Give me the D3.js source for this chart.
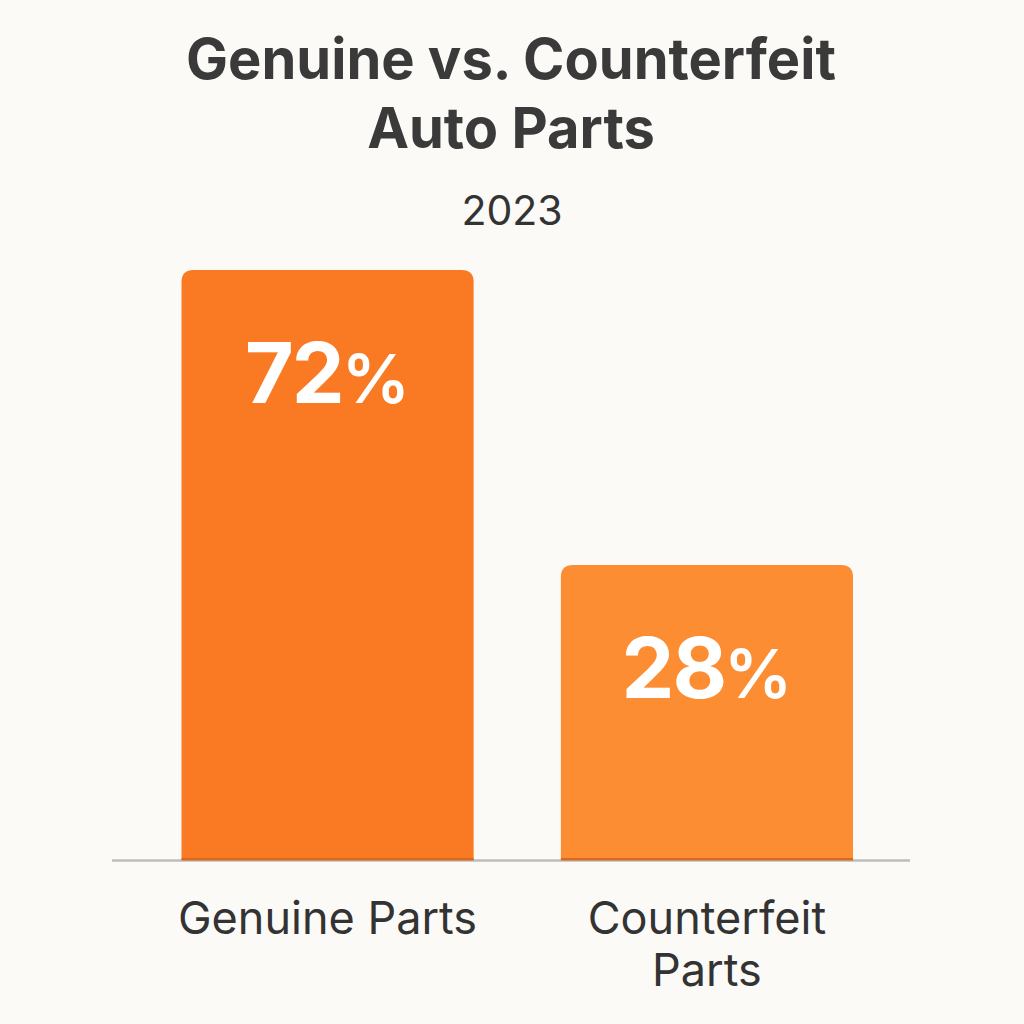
<!DOCTYPE html>
<html><head><meta charset="utf-8">
<script src="https://cdn.jsdelivr.net/npm/d3@7"></script>
<style>
html,body{margin:0;padding:0;background:#FBFAF7;}
svg{display:block;}
text{font-family:Inter,"Noto Sans",sans-serif;}
</style></head>
<body>
<svg id="chart" width="1024" height="1024"></svg>
<script>
const categories = ["Genuine Parts", "Counterfeit Parts"];
const labelLines = [["Genuine Parts"], ["Counterfeit", "Parts"]];
const values = [72, 28];
const valueLabels = ["72", "28"];
const barColors = ["#FA7923", "#FC8D32"];
const titleLines = ["Genuine vs. Counterfeit", "Auto Parts"];
const subtitle = "2023";

const svg = d3.select("#chart");
svg.append("rect").attr("width",1024).attr("height",1024).attr("fill","#FBFAF7");

const x = d3.scaleBand().domain(categories).range([181.5, 853]).paddingInner(0.23).paddingOuter(0);
const y = d3.scaleLinear().domain([-16, 72]).range([860, 270]);
const base = y(-16);

svg.selectAll(".title").data(titleLines).enter().append("text")
  .attr("x", 511).attr("y", (d,i)=>79 + i*69)
  .attr("text-anchor","middle").attr("font-size",56).attr("font-weight",700)
  .attr("fill","#3a3a3a").text(d=>d);

svg.append("text").attr("x",512).attr("y",225).attr("text-anchor","middle")
  .attr("font-size",41).attr("fill","#333").text(subtitle);

const r = 12;
function barPath(x0, w, top, bottom){
  return `M${x0},${bottom} L${x0},${top+r} Q${x0},${top} ${x0+r},${top} L${x0+w-r},${top} Q${x0+w},${top} ${x0+w},${top+r} L${x0+w},${bottom} Z`;
}

svg.append("line").attr("x1",112).attr("x2",910).attr("y1",base+0.5).attr("y2",base+0.5)
  .attr("stroke","#BDBDBD").attr("stroke-width",2.5);

const g = svg.selectAll(".bar").data(categories).enter().append("g");
g.append("path").attr("d",(d,i)=>barPath(x(d), x.bandwidth(), y(values[i]), base)).attr("fill",(d,i)=>barColors[i]);
g.append("rect").attr("x",d=>x(d)).attr("width",x.bandwidth()).attr("y",base-2).attr("height",2.5)
  .attr("fill","#D86A1E");
const vt = g.append("text").attr("x",d=>x(d)+x.bandwidth()/2).attr("y",(d,i)=>y(values[i])+133)
  .attr("text-anchor","middle").attr("font-size",84).attr("font-weight",700).attr("fill","#fff");
vt.append("tspan").attr("letter-spacing",-2).text((d,i)=>valueLabels[i]);
vt.append("tspan").attr("font-size",68).attr("font-weight",600).attr("dx",-1).text("%");

g.each(function(d,i){
  const sel = d3.select(this);
  labelLines[i].forEach((ln,j)=>{
    sel.append("text").attr("x", x(d)+x.bandwidth()/2).attr("y", 934 + j*52)
      .attr("text-anchor","middle").attr("font-size",45).attr("fill","#333").text(ln);
  });
});
</script>
</body></html>
